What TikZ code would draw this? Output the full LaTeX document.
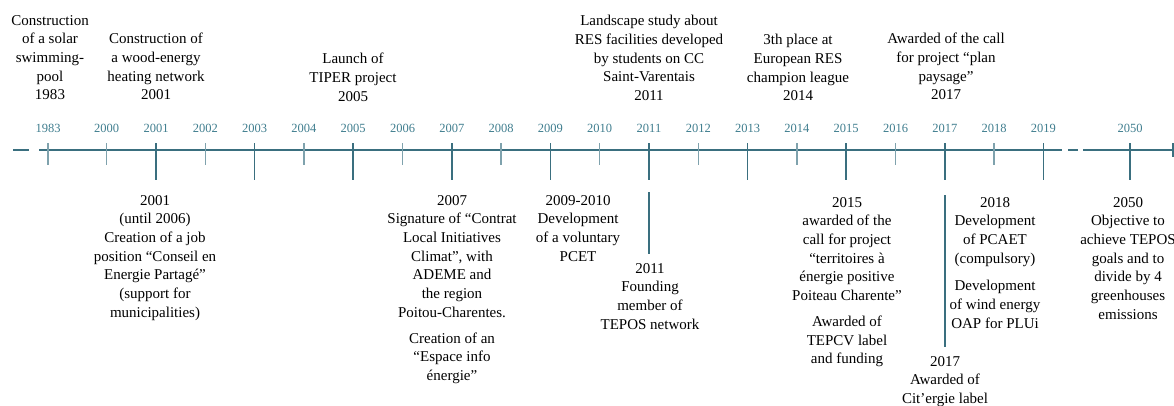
\documentclass[tikz,border=0pt]{standalone}
\usepackage{fontspec}
\setmainfont{Liberation Serif}
\definecolor{axis}{HTML}{3A6F7F}
\definecolor{minor}{HTML}{7FA2AD}
\definecolor{yearc}{HTML}{3F7D8E}
\begin{document}
\begin{tikzpicture}[x=1pt,y=-1pt,
  evt/.style={anchor=north,align=center,inner sep=0pt,font=\fontsize{15}{18.7}\selectfont,text=black},
  yr/.style={anchor=base,inner sep=0pt,font=\fontsize{12.5}{14}\selectfont,text=yearc},
  axisline/.style={draw=axis,line width=2pt},
  majtick/.style={draw=axis,line width=1.6pt},
  mintick/.style={draw=minor,line width=1.3pt},
  mark line/.style={draw=axis,line width=2pt}]
\useasboundingbox (0,0) rectangle (1174,405);
% axis
\draw[axisline] (13,150) -- (29,150);
\draw[axisline] (39,150) -- (1062,150);
\draw[axisline] (1068,150) -- (1078,150);
\draw[axisline] (1083,150) -- (1176,150);
\draw[majtick] (1173,143) -- (1173,157);
% ticks and year labels
\foreach \yv/\xx in {1983/48,2000/106.7,2002/205.3,2004/303.9,2006/402.5,2008/501.1,2010/599.7,2012/698.3,2014/796.9,2016/895.5,2018/994.1}{
  \draw[mintick] (\xx,143) -- (\xx,165);
  \node[yr] (y\yv) at (\xx,132.5) {\yv};
}
\foreach \yv/\xx in {2001/156,2003/254.6,2005/353.2,2007/451.8,2009/550.4,2011/649,2013/747.6,2015/846.2,2017/944.8,2019/1043.4,2050/1130}{
  \draw[majtick] (\xx,143) -- (\xx,180);
  \node[yr] (y\yv) at (\xx,132.5) {\yv};
}
% top events
\node[evt] (t1983) at (50,15) {Construction\\of a solar\\swimming-\\pool\\1983};
\node[evt] (t2001) at (156,33) {Construction of\\a wood-energy\\heating network\\2001};
\node[evt] (t2005) at (353,53) {Launch of\\TIPER project\\2005};
\node[evt] (t2011) at (649,15) {Landscape study about\\RES facilities developed\\by students on CC\\Saint-Varentais\\2011};
\node[evt] (t2014) at (798,34) {3th place at\\European RES\\champion league\\2014};
\node[evt] (t2017) at (946,33) {Awarded of the call\\for project “plan\\paysage”\\2017};
% bottom events
\node[evt] (b2001) at (155,195) {2001\\(until 2006)\\Creation of a job\\position “Conseil en\\Energie Partagé”\\(support for\\municipalities)};
\node[evt] (b2007) at (452,195) {2007\\Signature of “Contrat\\Local Initiatives\\Climat”, with\\ADEME and\\the region\\Poitou-Charentes.\\[7pt]Creation of an\\“Espace info\\énergie”};
\node[evt] (b2009) at (578,195) {2009-2010\\Development\\of a voluntary\\PCET};
\node[evt] (b2011) at (650,263) {2011\\Founding\\member of\\TEPOS network};
\node[evt] (b2015) at (847,197) {2015\\awarded of the\\call for project\\“territoires à\\énergie positive\\Poiteau Charente”\\[7pt]Awarded of\\TEPCV label\\and funding};
\node[evt] (b2018) at (995,197) {2018\\Development\\of PCAET\\(compulsory)\\[9pt]Development\\of wind energy\\OAP for PLUi};
\node[evt] (b2017) at (945,356) {2017\\Awarded of\\Cit’ergie label};
\node[evt] (b2050) at (1128,197) {2050\\Objective to\\achieve TEPOS\\goals and to\\divide by 4\\greenhouses\\emissions};
% marker lines
\coordinate (m2011a) at (649,192);
\coordinate (m2011b) at (649,254);
\coordinate (m2017a) at (945,195);
\coordinate (m2017b) at (945,347);
\draw[mark line] (m2011a) -- (m2011b);
\draw[mark line] (m2017a) -- (m2017b);
\end{tikzpicture}
\end{document}
